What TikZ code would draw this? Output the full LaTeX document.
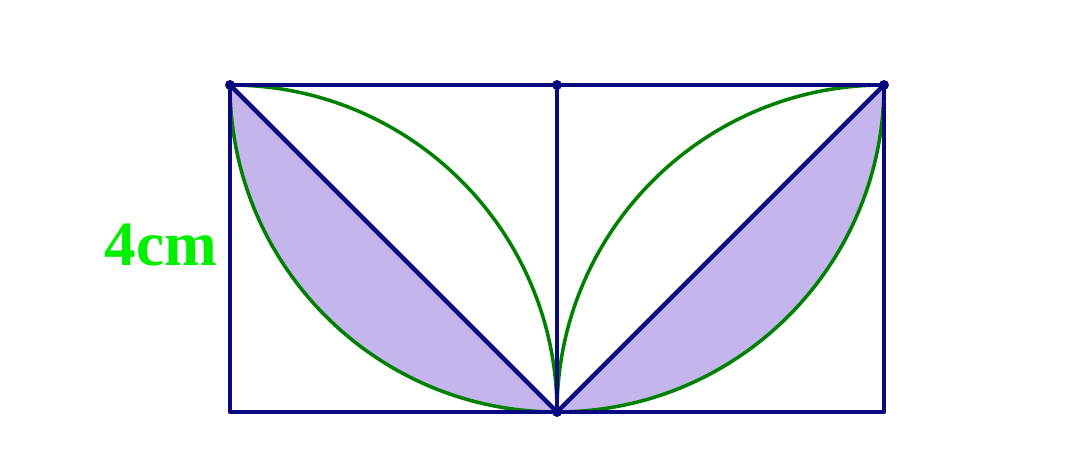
\documentclass[tikz,border=0pt]{standalone}
\usepackage{fontspec}
\setmainfont{Liberation Serif}
\definecolor{navyline}{RGB}{10,10,128}
\definecolor{arcgreen}{RGB}{0,128,0}
\definecolor{lav}{RGB}{196,182,236}
\definecolor{labgreen}{RGB}{0,240,0}
\begin{document}
\begin{tikzpicture}[x=0.02cm,y=0.02cm,
  edge/.style={draw=navyline,line width=2.6pt,line cap=round,line join=round},
  arcline/.style={draw=arcgreen,line width=2pt},
  shade/.style={fill=lav},
  dot/.style={fill=navyline},
  lab/.style={text=labgreen,font=\fontsize{36}{40}\selectfont\bfseries}]
\useasboundingbox (0,0) rectangle (1080,459);
\coordinate (A) at (230,374);
\coordinate (M) at (557,374);
\coordinate (B) at (884,374);
\coordinate (C) at (230,47);
\coordinate (D) at (557,47);
\coordinate (E) at (884,47);
% shaded segments
\path[shade] (A) arc[start angle=180,end angle=270,radius=327] -- cycle;
\path[shade] (D) arc[start angle=270,end angle=360,radius=327] -- cycle;
% green arcs
\draw[arcline] (A) arc[start angle=180,end angle=270,radius=327];
\draw[arcline] (A) arc[start angle=90,end angle=0,radius=327];
\draw[arcline] (D) arc[start angle=270,end angle=360,radius=327];
\draw[arcline] (D) arc[start angle=180,end angle=90,radius=327];
% navy lines
\draw[edge] (A) -- (B) -- (E) -- (C) -- cycle;
\draw[edge] (M) -- (D);
\draw[edge] (A) -- (D) -- (B);
% dots
\foreach \p in {A,M,B,D} \fill[dot] (\p) circle[radius=5];
\node[lab] (len) at (161,214) {4cm};
\end{tikzpicture}
\end{document}
